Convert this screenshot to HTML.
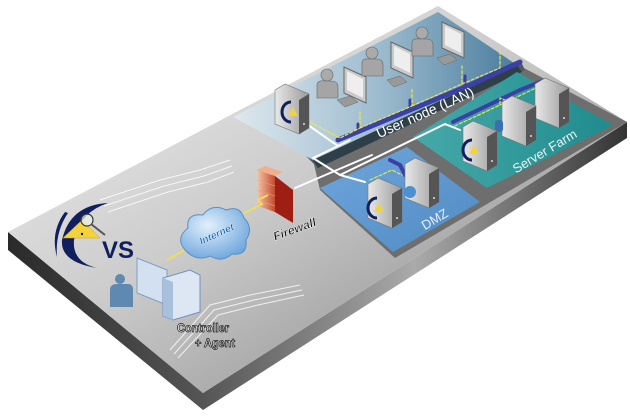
<!DOCTYPE html>
<html><head><meta charset="utf-8"><style>
html,body{margin:0;padding:0;background:#fff;width:630px;height:418px;overflow:hidden}
svg{display:block}
text{font-family:"Liberation Sans",Arial,sans-serif}
</style></head><body>
<svg width="630" height="418" viewBox="0 0 630 418" xmlns="http://www.w3.org/2000/svg">
<defs>
<linearGradient id="plat" x1="0" y1="0" x2="1" y2="1" gradientUnits="objectBoundingBox">
<stop offset="0" stop-color="#f4f4f4"/><stop offset="0.45" stop-color="#cccccc"/><stop offset="1" stop-color="#7a7a7a"/></linearGradient>
<linearGradient id="edgeL" x1="0" y1="0" x2="1" y2="0"><stop offset="0" stop-color="#2a2a2a"/><stop offset="1" stop-color="#555"/></linearGradient>
<linearGradient id="edgeR" x1="0" y1="0" x2="1" y2="0"><stop offset="0" stop-color="#555"/><stop offset="0.5" stop-color="#aaa"/><stop offset="1" stop-color="#333"/></linearGradient>
<linearGradient id="lan" x1="0" y1="0" x2="1" y2="0"><stop offset="0" stop-color="#dfe8ee"/><stop offset="0.5" stop-color="#9fbdd0"/><stop offset="1" stop-color="#4a7d9d"/></linearGradient>
<linearGradient id="sf" x1="0" y1="0" x2="1" y2="0"><stop offset="0" stop-color="#47a9a9"/><stop offset="1" stop-color="#1f8b8d"/></linearGradient>
<linearGradient id="dmz" x1="0" y1="0" x2="1" y2="1"><stop offset="0" stop-color="#6fa7dc"/><stop offset="1" stop-color="#4f8ac2"/></linearGradient>
<linearGradient id="srv" x1="0" y1="0" x2="1" y2="0"><stop offset="0" stop-color="#e8e8e8"/><stop offset="1" stop-color="#9a9a9a"/></linearGradient>
<linearGradient id="brick" x1="0" y1="0" x2="1" y2="0"><stop offset="0" stop-color="#f4c7a8"/><stop offset="1" stop-color="#c44a2e"/></linearGradient>
<radialGradient id="cloud" cx="0.4" cy="0.35" r="0.7"><stop offset="0" stop-color="#e2f0fc"/><stop offset="1" stop-color="#6da6dc"/></radialGradient>
<g id="server"><polygon points="0,6 10,0 34,10 34,44 24,50 0,40" fill="url(#srv)" stroke="#777" stroke-width="0.6"/><polygon points="24,16 34,10 34,44 24,50" fill="#555"/><circle cx="29" cy="40" r="1" fill="#ddd"/></g>
<g id="mon"><polygon points="0,4 22,14 22,40 0,30" fill="#c9c9c9" stroke="#666" stroke-width="1"/><polygon points="3,8 19,16 19,35 3,27" fill="#eee"/></g>
<g id="user"><circle cx="10" cy="7" r="6" fill="#aaa" stroke="#666" stroke-width="0.6"/><path d="M0,30 L0,17 Q0,12 8,13 L14,13 Q21,13 21,19 L21,30 Z" fill="#a5a5a5" stroke="#666" stroke-width="0.6"/></g>
<g id="cicon"><path d="M9,0 A9,10 0 1 0 9,20" fill="none" stroke="#11205c" stroke-width="3"/><polygon points="6,14 11,5 16,14" fill="#f2d43a"/></g>
</defs>

<polygon points="8,232 203,393 203,410 8,250" fill="url(#edgeL)"/>
<polygon points="203,393 627,122 627,138 203,410" fill="url(#edgeR)"/>
<polygon points="8,232 438,6 627,122 203,393" fill="url(#plat)"/>
<g stroke="#fff" stroke-width="1" fill="none" opacity="0.8">
<polyline points="100,200 160,180 200,170 230,160"/>
<polyline points="104,206 164,186 204,176 232,166"/>
<polyline points="108,212 168,192 208,182 234,172"/>
<polyline points="170,350 210,305 250,295 300,285"/>
<polyline points="174,354 214,310 254,300 302,290"/>
<polyline points="178,358 218,315 258,305 304,295"/>
</g>

<polygon points="313,160 520,66 627,122 395,258 320,190" fill="#6e6e6e"/>
<polygon points="300,150 520,60 525,70 318,168" fill="#4d5a62"/>
<polygon points="233,117 438,12 517,65 313,160" fill="url(#lan)"/>
<polygon points="313,160 517,65 522,72 318,168" fill="#2f3f4a"/>
<polygon points="413,137 517,72 613,125 487,188" fill="url(#sf)"/>
<polygon points="320,188 407,147 480,202 393,252" fill="url(#dmz)"/>

<g fill="none" stroke-linecap="round" stroke-linejoin="round">
<polyline points="338,140 470,85 520,62" stroke="#3b3fa8" stroke-width="5"/>
<polyline points="358,132 358,124" stroke="#3b3fa8" stroke-width="3"/>
<polyline points="410,110 410,100" stroke="#3b3fa8" stroke-width="3"/>
<polyline points="465,86 465,76" stroke="#3b3fa8" stroke-width="3"/>
<polyline points="453,122 520,90 545,80 548,92" stroke="#3b3fa8" stroke-width="4"/>
<polyline points="390,160 400,165 405,175" stroke="#3b3fa8" stroke-width="4"/>
<polyline points="295,188 372,155" stroke="#fff" stroke-width="2"/>
<polyline points="308,125 338,146 313,158 340,175 445,124 460,130" stroke="#fff" stroke-width="2"/>
<polyline points="338,146 350,140" stroke="#fff" stroke-width="2"/>
<polyline points="340,175 365,182" stroke="#fff" stroke-width="2"/>
<g stroke="#e8e84a" stroke-width="1.2" stroke-dasharray="3,2">
<polyline points="310,122 340,138 360,128 360,112"/>
<polyline points="360,128 412,106 412,88"/>
<polyline points="412,106 462,84 462,66"/>
<polyline points="462,84 500,68 500,52"/>
<polyline points="455,126 500,105 500,98 505,100"/>
<polyline points="500,105 540,86 545,90"/>
<polyline points="370,180 392,170 402,175"/>
</g>
</g>

<use href="#user" x="317" y="68"/><use href="#mon" x="344" y="63"/>
<polygon points="337,100 350,96 358,102 345,107" fill="#999" stroke="#666" stroke-width="0.5"/>
<use href="#user" x="362" y="46"/><use href="#mon" x="391" y="38"/>
<polygon points="387,80 400,76 407,82 394,87" fill="#999" stroke="#666" stroke-width="0.5"/>
<use href="#user" x="412" y="26"/><use href="#mon" x="442" y="18"/>
<polygon points="437,58 450,54 457,60 444,65" fill="#999" stroke="#666" stroke-width="0.5"/>
<use href="#server" x="275" y="84"/>
<use href="#cicon" x="282" y="102"/>
<use href="#server" x="535" y="78"/>
<use href="#server" x="502" y="96"/>
<rect x="495" y="120" width="8" height="12" fill="#3a6fb0" rx="3"/>
<use href="#server" x="463" y="121"/>
<use href="#cicon" x="463" y="140"/>
<use href="#server" x="405" y="158"/>
<circle cx="410" cy="192" r="6" fill="#4d8fd0"/>
<use href="#server" x="368" y="178"/>
<use href="#cicon" x="368" y="198"/>

<text x="0" y="0" transform="translate(427,117) rotate(-24)" font-size="14" fill="#fff" text-anchor="middle">User node (LAN)</text>
<text x="0" y="0" transform="translate(547,155) rotate(-31)" font-size="13" fill="#e8f4f4" text-anchor="middle">Server Farm</text>
<text x="0" y="0" transform="translate(437,223) rotate(-31)" font-size="13" fill="#e8f0fa" text-anchor="middle">DMZ</text>

<polygon points="257,170 275,176 293,190 293,223 275,212 257,205" fill="#9e1e14"/>
<polygon points="257,170 275,176 275,212 257,205" fill="url(#brick)"/>
<polygon points="257,170 265,166 283,172 275,176" fill="#f0b090"/>
<g stroke="#e9a080" stroke-width="0.6"><line x1="257" y1="180" x2="275" y2="186"/><line x1="257" y1="190" x2="275" y2="196"/><line x1="257" y1="200" x2="275" y2="206"/></g>
<text x="0" y="0" transform="translate(296,233) rotate(-20)" font-size="12" font-weight="bold" font-style="italic" fill="#111" stroke="#fff" stroke-width="0.4" text-anchor="middle">Firewall</text>

<polyline points="167,260 185,250 182,246 262,204 258,200 268,195" fill="none" stroke="#f1dc5a" stroke-width="2"/>

<path d="M185,250 Q175,238 188,228 Q186,213 203,215 Q212,203 226,210 Q240,205 244,218 Q254,228 246,240 Q248,256 232,254 Q222,263 210,256 Q196,262 185,250 Z" fill="url(#cloud)" stroke="#5a8fc5" stroke-width="1"/>
<text x="0" y="0" transform="translate(218,237) rotate(-25)" font-size="10" font-weight="bold" font-style="italic" fill="#1060b0" stroke="#fff" stroke-width="0.3" text-anchor="middle">Internet</text>

<path d="M108,203 Q70,205 62,240 Q60,262 97,268 Q72,262 74,240 Q80,212 108,203 Z" fill="#11205c"/>
<path d="M65,212 Q50,232 57,257 Q55,232 68,213 Z" fill="#11205c"/>
<polygon points="82,220 63,238 100,238" fill="#f2d43a" stroke="#c9a010" stroke-width="0.5"/>
<circle cx="87" cy="220" r="6" fill="#eaf4e8" fill-opacity="0.7" stroke="#333" stroke-width="1.2"/>
<line x1="91" y1="224" x2="105" y2="235" stroke="#555" stroke-width="2"/>
<circle cx="82" cy="234" r="1.2" fill="#111"/>
<text x="102" y="258" font-size="24" font-weight="bold" fill="#11205c">VS</text>

<g opacity="0.95">
<path d="M110,307 L110,290 Q110,284 117,284 L128,284 Q133,284 133,290 L133,307 Z" fill="#5a86b0"/>
<circle cx="120" cy="279" r="5" fill="#5a86b0"/>
<polygon points="137,258 167,270 167,305 137,293" fill="#d4e2f2" stroke="#7d9cc4" stroke-width="1"/>
<polygon points="163,278 190,270 200,275 200,312 173,320 163,316" fill="#dfe9f6" stroke="#6f8fbd" stroke-width="1"/>
<polygon points="163,278 173,282 173,320 163,316" fill="#a8c0de"/>
</g>
<text x="177" y="332" font-size="12" font-weight="bold" fill="#fff" stroke="#222" stroke-width="0.8" textLength="52" lengthAdjust="spacingAndGlyphs">Controller</text>
<text x="195" y="347" font-size="12" font-weight="bold" fill="#fff" stroke="#222" stroke-width="0.8" textLength="40" lengthAdjust="spacingAndGlyphs">+ Agent</text>
</svg>
</body></html>
